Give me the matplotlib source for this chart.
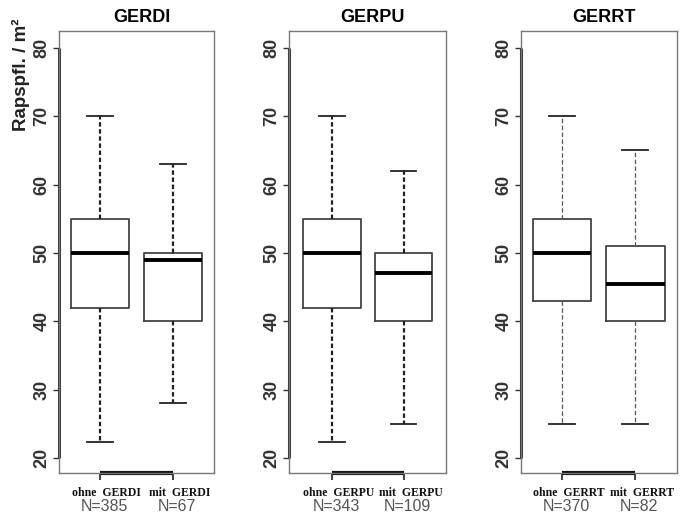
import matplotlib
matplotlib.use("Agg")
import matplotlib.pyplot as plt
import matplotlib.transforms as mtransforms

# ---- data ----
panels = ["GERDI", "GERPU", "GERRT"]
groups = ["ohne", "mit"]
n_counts = {"GERDI": [385, 67], "GERPU": [343, 109], "GERRT": [370, 82]}
whislo = {"GERDI": [22.3, 28.0], "GERPU": [22.3, 25.0], "GERRT": [25.0, 25.0]}
q1 = {"GERDI": [42.0, 40.0], "GERPU": [42.0, 40.0], "GERRT": [43.0, 40.0]}
med = {"GERDI": [50.0, 49.0], "GERPU": [50.0, 47.0], "GERRT": [50.0, 45.5]}
q3 = {"GERDI": [55.0, 50.0], "GERPU": [55.0, 50.0], "GERRT": [55.0, 51.0]}
whishi = {"GERDI": [70.0, 63.0], "GERPU": [70.0, 62.0], "GERRT": [70.0, 65.0]}
yticks = [20, 30, 40, 50, 60, 70, 80]
ylabel = "Rapspfl. / m²"

W, H = 681, 513
fig = plt.figure(figsize=(W / 100, H / 100), dpi=100)

ax_px = [(59, 155), (289, 157), (521, 156)]
top_px, bot_px = 30.7, 472.7
xlims = [(0.44, 2.56), (0.40, 2.59), (0.44, 2.57)]
whisk_lw = {"GERDI": 1.6, "GERPU": 1.6, "GERRT": 0.9}
whisk_col = {"GERDI": "#222222", "GERPU": "#222222", "GERRT": "#555555"}
whisk_ls = {"GERDI": (0, (2, 1.2)), "GERPU": (0, (2, 1.2)), "GERRT": (0, (3.5, 2))}

for i, name in enumerate(panels):
    left, width = ax_px[i]
    ax = fig.add_axes([left / W, (H - bot_px) / H, width / W, (bot_px - top_px) / H])
    stats = []
    for j in range(2):
        stats.append(dict(whislo=whislo[name][j], q1=q1[name][j], med=med[name][j],
                          q3=q3[name][j], whishi=whishi[name][j], fliers=[]))
    ax.bxp(stats, positions=[1, 2], widths=0.8, capwidths=0.35, showfliers=False,
           boxprops=dict(color="#444444", linewidth=1.3),
           medianprops=dict(color="black", linewidth=2.8),
           whiskerprops=dict(color=whisk_col[name], linewidth=whisk_lw[name], linestyle=whisk_ls[name]),
           capprops=dict(color="#222222", linewidth=1.3))
    ax.set_xlim(*xlims[i])
    ax.set_ylim(17.85, 82.5)
    for sp in ax.spines.values():
        sp.set_color("#777777")
        sp.set_linewidth(1.0)
    ax.set_yticks(yticks)
    ax.set_yticklabels([str(t) for t in yticks], rotation=90, va="center",
                       fontsize=13, fontweight="bold", color="#333333", family="Liberation Sans")
    ax.tick_params(axis="y", length=4, width=1, color="#333333", pad=2)
    ax.set_xticks([1, 2])
    ax.set_xticklabels(["", ""])
    ax.tick_params(axis="x", length=5, width=1.2, color="#222222")
    x0 = xlims[i][0]
    ax.plot([x0, x0], [20, 80], color="#333333", lw=2.2, clip_on=False, solid_capstyle="butt")
    ax.plot([1, 2], [17.85, 17.85], color="#111111", lw=3, clip_on=False, solid_capstyle="butt")
    trans = mtransforms.blended_transform_factory(ax.transData, ax.transAxes)
    for j, g in enumerate(groups):
        ax.annotate(f"{g}  {name}", xy=(j + 1, 0), xycoords=trans, xytext=(5, -14.5),
                    textcoords="offset points", ha="center", va="center",
                    fontsize=8.5, fontweight="bold", family="Liberation Serif", color="#111111")
        ax.annotate(f"N={n_counts[name][j]}", xy=(j + 1, 0), xycoords=trans, xytext=(3, -24),
                    textcoords="offset points", ha="center", va="center",
                    fontsize=11.5, family="Liberation Sans", color="#555555")
    ax.set_title(name, fontsize=13, fontweight="bold", family="Liberation Sans", pad=6,
                 x=0.5 + 5 / width)

fig.text(21 / W, 1 - 75 / H, ylabel, rotation=90, ha="center", va="center",
         fontsize=13.5, fontweight="bold", family="Liberation Sans", color="#222222")

fig.savefig("out.png", dpi=100)
